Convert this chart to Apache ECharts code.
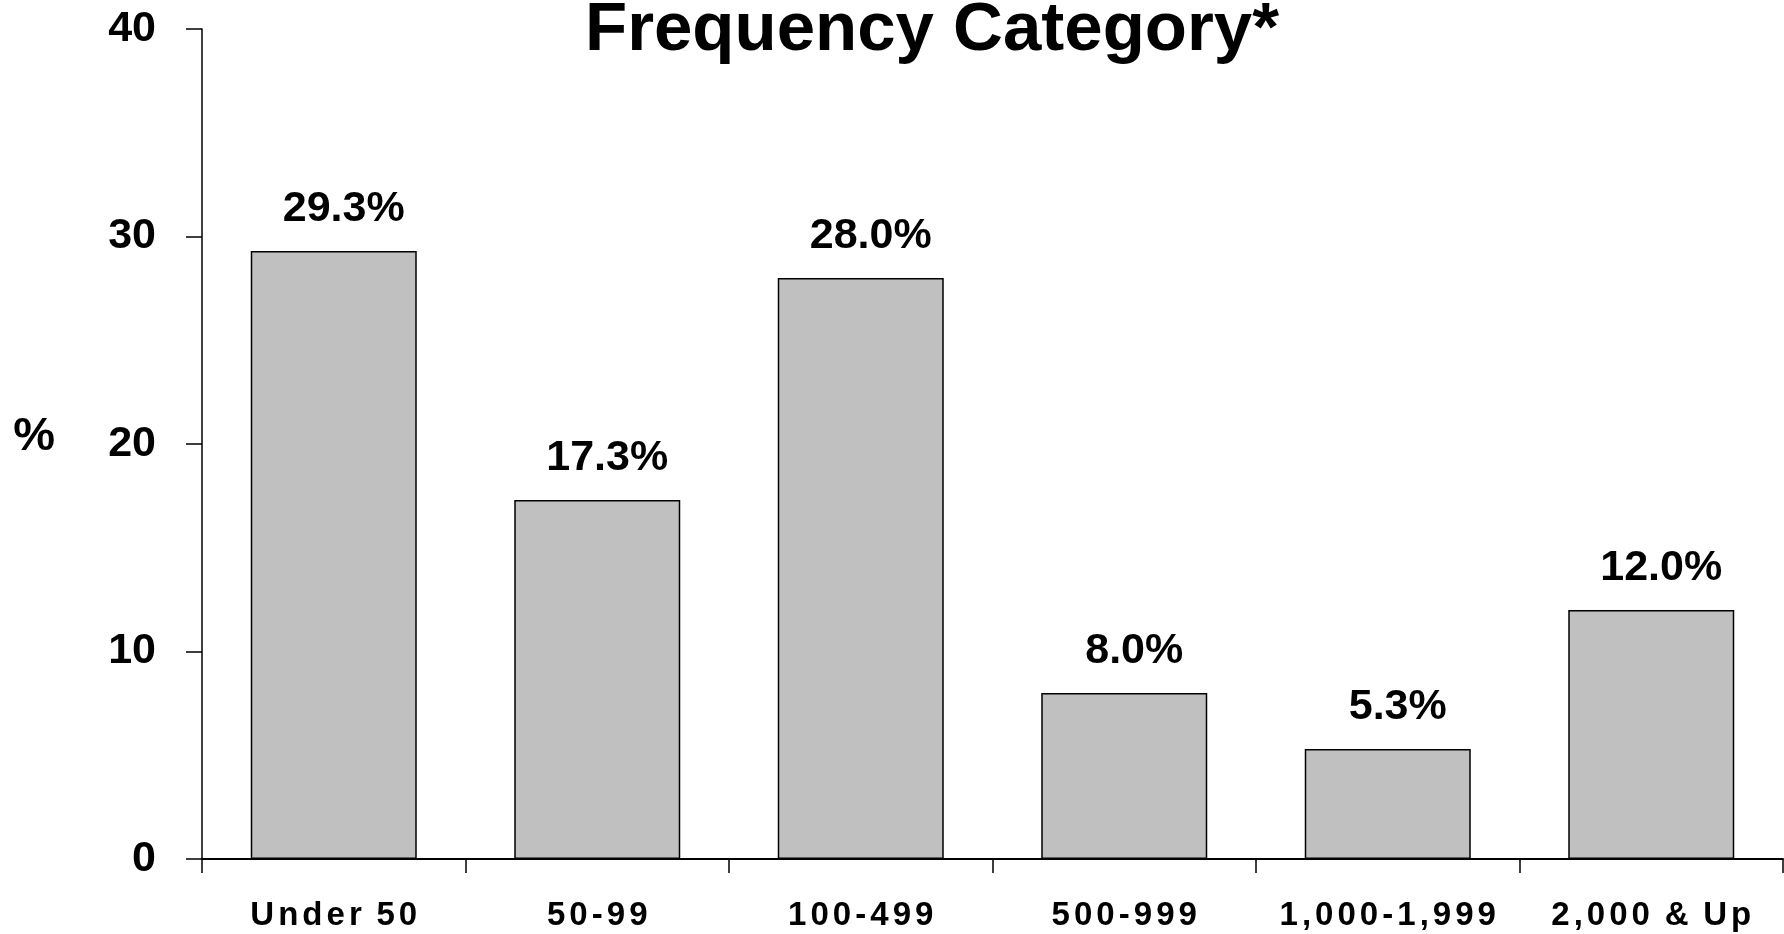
<!DOCTYPE html>
<html>
<head>
<meta charset="utf-8">
<script src="https://cdn.jsdelivr.net/npm/echarts@6/dist/echarts.min.js"></script>
<style>
  html, body { margin: 0; padding: 0; background: #ffffff; }
  #chart { width: 1784px; height: 934px; }
</style>
</head>
<body>
<div id="chart"></div>
<script>
// Share of respondents by frequency category
const categories = ['Under 50', '50-99', '100-499', '500-999', '1,000-1,999', '2,000 & Up'];
const shares = [29.3, 17.3, 28.0, 8.0, 5.3, 12.0];
const yMin = 0;
const yMax = 40;
const yStep = 10;
const titleText = 'Frequency Category*';
const axisName = '%';

const FONT = "'Liberation Sans', Arial, Helvetica, sans-serif";

// Category labels are letter-spaced: each character is its own rich token,
// separated by a small space token.
function spread(s) {
  return Array.from(s).map(function (ch) {
    return ch === ' ' ? '{w| }' : '{c|' + ch + '}';
  }).join('{g| }');
}

const chart = echarts.init(document.getElementById('chart'), null, { renderer: 'canvas' });

chart.setOption({
  backgroundColor: '#ffffff',
  animation: false,
  title: {
    text: titleText,
    left: 927,
    textAlign: 'center',
    top: -9,
    textStyle: { fontFamily: FONT, fontWeight: 'bold', fontSize: 69, color: '#000000' }
  },
  grid: { left: 202, right: 1, top: 29, bottom: 75, containLabel: false },
  xAxis: {
    type: 'category',
    data: categories,
    boundaryGap: true,
    axisLine: { show: true, lineStyle: { color: '#000000', width: 2 } },
    axisTick: { show: true, length: 14, lineStyle: { color: '#000000', width: 1.5 } },
    axisLabel: {
      interval: 0,
      margin: 40,
      color: '#000000',
      formatter: function (v) { return spread(v); },
      rich: {
        c: { fontFamily: FONT, fontWeight: 'bold', fontSize: 33, color: '#000000' },
        w: { fontFamily: FONT, fontWeight: 'bold', fontSize: 24, color: '#000000' },
        g: { fontFamily: FONT, fontSize: 14.5, color: '#000000' }
      }
    },
    splitLine: { show: false }
  },
  yAxis: {
    type: 'value',
    min: yMin,
    max: yMax,
    interval: yStep,
    name: '{p|' + axisName + '}',
    nameLocation: 'middle',
    nameRotate: 0,
    nameGap: 147,
    nameTextStyle: {
      rich: {
        p: { fontFamily: FONT, fontWeight: 'bold', fontSize: 47, color: '#000000', padding: [0, 0, 14, 0] }
      }
    },
    axisLine: { show: true, lineStyle: { color: '#000000', width: 1.5 } },
    axisTick: { show: true, length: 16, lineStyle: { color: '#000000', width: 1.5 } },
    axisLabel: {
      margin: 46,
      fontFamily: FONT,
      fontWeight: 'bold',
      fontSize: 43,
      color: '#000000',
      padding: [0, 0, 10, 0]
    },
    splitLine: { show: false }
  },
  series: [{
    type: 'bar',
    data: shares,
    barWidth: 166,
    itemStyle: { color: '#c0c0c0', borderColor: '#000000', borderWidth: 1.5 },
    label: {
      show: true,
      position: 'top',
      distance: 20,
      offset: [10, 0],
      fontFamily: FONT,
      fontWeight: 'bold',
      fontSize: 43,
      color: '#000000',
      formatter: function (p) { return p.value.toFixed(1) + '%'; }
    }
  }]
});
</script>
</body>
</html>
